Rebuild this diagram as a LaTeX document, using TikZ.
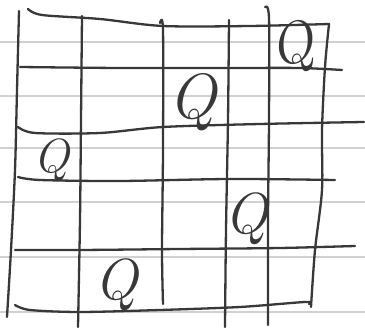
\documentclass[tikz,border=0pt]{standalone}
\begin{document}
\begin{tikzpicture}[x=1pt,y=-1pt,
  ruled/.style={draw=black!18,line width=1.1pt},
  pen/.style={draw=black!78,line width=2.3pt,line cap=round,line join=round},
  queen/.style={text=black!78,font=\fontsize{58}{58}\selectfont\itshape,inner sep=0pt}]
\useasboundingbox (0,0) rectangle (365,328);
\fill[white] (0,0) rectangle (365,328);
% ruled paper
\foreach \yy in {42,96,148,202,257,312} \draw[ruled] (0,\yy) -- (365,\yy);
% vertical pen lines
\draw[pen] plot[smooth] coordinates {(19,11) (17,90) (15,170) (11,250) (7,317)};
\draw[pen] plot[smooth] coordinates {(82,16) (81,120) (80,220) (78,327)};
\draw[pen] plot[smooth] coordinates {(160,23) (163,30) (163,150) (162,250) (163,304)};
\draw[pen] plot[smooth] coordinates {(229,20) (228,120) (226,230) (225,327)};
\draw[pen] plot[smooth] coordinates {(265,7) (269,18) (269,120) (268,220) (268,325)};
\draw[pen] plot[smooth] coordinates {(329,24) (325,67) (322,130) (322,190) (315,250) (311,307)};
% horizontal pen lines
\draw[pen] plot[smooth] coordinates {(28,9) (42,15) (100,19) (163,26) (250,26) (329,24)};
\draw[pen] plot[smooth] coordinates {(20,67) (120,68) (230,68) (300,68) (342,70)};
\draw[pen] plot[smooth] coordinates {(18,127) (35,133) (100,133) (163,127) (260,124) (364,122)};
\draw[pen] plot[smooth] coordinates {(18,177) (40,180) (120,181) (230,179) (335,180)};
\draw[pen] plot[smooth] coordinates {(15,250) (80,250) (180,249) (280,248) (355,246)};
\draw[pen] plot[smooth] coordinates {(15,305) (30,310) (80,312) (160,310) (240,307) (305,302) (309,304)};
% queens
\node[queen,rotate=15] (q1) at (293,49) {Q};
\node[queen,font=\fontsize{64}{64}\selectfont\itshape] (q2) at (192,102) {Q};
\node[queen,font=\fontsize{48}{48}\selectfont\itshape] (q3) at (52,160) {Q};
\node[queen] (q4) at (246,219) {Q};
\node[queen] (q5) at (116,285) {Q};
\end{tikzpicture}
\end{document}
